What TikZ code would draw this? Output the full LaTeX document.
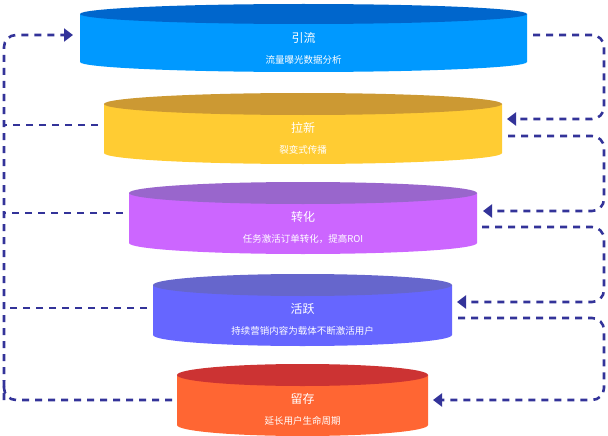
\documentclass[tikz,border=0pt]{standalone}
\usepackage{fontspec}
\newfontfamily\cjk{Noto Sans CJK SC}
\usetikzlibrary{arrows.meta}
\definecolor{navy}{HTML}{333399}
\tikzset{
  flow/.style={draw=navy,line width=2.6pt,dash pattern=on 7pt off 6pt,rounded corners=12pt},
  arr/.style={flow,-{Triangle[length=9pt,width=13pt]}},
  ttl/.style={text=white,font=\cjk\fontsize{12}{14}\selectfont},
  sub/.style={text=white,font=\cjk\fontsize{9.5}{11}\selectfont},
}
\newcommand{\mycyl}[9]{%
  \fill[#6] (#1-#2,#3) -- (#1-#2,#4) arc[start angle=180,end angle=360,x radius=#2,y radius=-#5] -- (#1+#2,#3) -- cycle;
  \fill[#7] (#1,#3) ellipse[x radius=#2,y radius=#5];
  \node[ttl] at (#1,#3+24) {#8};
  \node[sub] at (#1,#3+46) {#9};
}
\begin{document}
\begin{tikzpicture}[x=1pt,y=-1pt]
\useasboundingbox (0,0) rectangle (608,436);
\definecolor{b1}{HTML}{0099FF}\definecolor{t1}{HTML}{0066CC}
\definecolor{b2}{HTML}{FFCC33}\definecolor{t2}{HTML}{CC9933}
\definecolor{b3}{HTML}{CC66FF}\definecolor{t3}{HTML}{9966CC}
\definecolor{b4}{HTML}{6666FF}\definecolor{t4}{HTML}{6666CC}
\definecolor{b5}{HTML}{FF6633}\definecolor{t5}{HTML}{CC3333}
\mycyl{303.5}{223.5}{14}{62}{10}{b1}{t1}{引流}{流量曝光数据分析}
\mycyl{303}{199}{104}{153}{11}{b2}{t2}{拉新}{裂变式传播}
\mycyl{303}{174}{193}{243}{11}{b3}{t3}{转化}{任务激活订单转化，提高ROI}
\mycyl{302.5}{149.5}{285}{335}{11}{b4}{t4}{活跃}{持续营销内容为载体不断激活用户}
\mycyl{302.5}{125.5}{375}{425}{11}{b5}{t5}{留存}{延长用户生命周期}
% named anchor points
\coordinate (c1L) at (73,35);   \coordinate (c1R) at (533,35);
\coordinate (c2L) at (98,125);  \coordinate (c2Ri) at (507,119); \coordinate (c2Ro) at (508,136);
\coordinate (c3L) at (123,213); \coordinate (c3Ri) at (483,211); \coordinate (c3Ro) at (482,227);
\coordinate (c4L) at (147,308); \coordinate (c4Ri) at (457,302); \coordinate (c4Ro) at (458,318);
\coordinate (c5L) at (172,400); \coordinate (c5Ri) at (433,400);
% left return loop
\draw[arr] (4,400) -- (4,35) -- (c1L);
\draw[flow] (c2L) -- (4,125);
\draw[flow] (c3L) -- (4,213);
\draw[flow] (c4L) -- (4,308);
\draw[flow] (c5L) -- (4,400) -- (4,380);
% right chain
\draw[arr] (c1R) -- (604,35) -- (604,119) -- (c2Ri);
\draw[arr] (c2Ro) -- (604,136) -- (604,211) -- (c3Ri);
\draw[arr] (c3Ro) -- (604,227) -- (604,302) -- (c4Ri);
\draw[arr] (c4Ro) -- (604,318) -- (604,400) -- (c5Ri);
\end{tikzpicture}
\end{document}
